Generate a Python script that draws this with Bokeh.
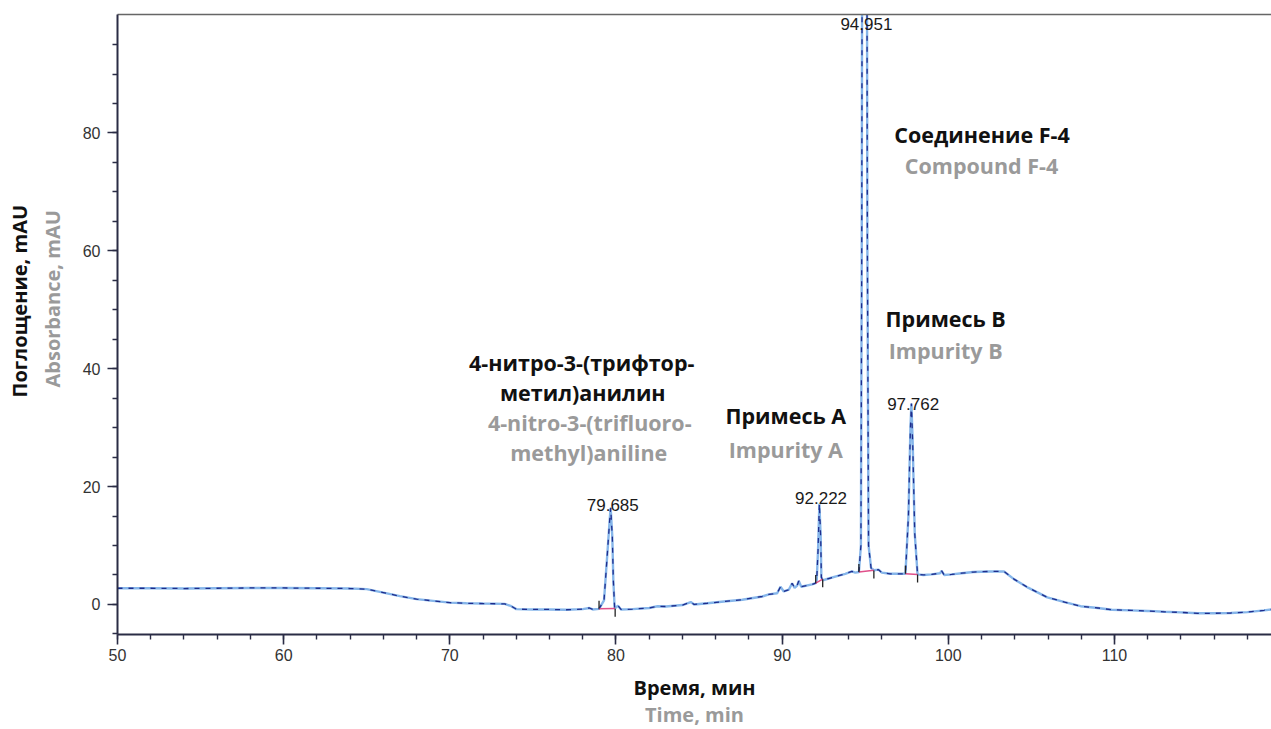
import math
from bokeh.plotting import figure
from bokeh.models import Range1d, FixedTicker, LinearAxis, Title
from bokeh.core.properties import value
from bokeh.embed import file_html
from bokeh.resources import INLINE

# ---------------- data ----------------
time_min = [50.0, 52.0, 54.0, 56.0, 58.0, 60.0, 62.0, 64.0, 65.0, 66.0, 67.0, 68.0, 69.0, 70.0,
            71.0, 72.0, 73.3, 73.7, 74.0, 75.0, 76.0, 77.0, 78.0, 78.4, 78.6, 78.98, 79.28, 79.48,
            79.62, 79.68, 79.78, 79.84, 79.92, 80.12, 80.3, 81.0, 82.0, 82.5, 83.0, 84.0, 84.5,
            84.7, 85.5, 86.5, 87.6, 88.8, 89.2, 89.7, 89.9, 90.1, 90.4, 90.6, 90.75, 90.9, 91.0,
            91.15, 91.8, 92.02, 92.08, 92.16, 92.24, 92.32, 92.36, 92.44, 92.8, 93.3, 93.8, 94.2,
            94.4, 94.62, 94.74, 94.79, 94.95, 95.13, 95.2, 95.35, 95.52, 95.8, 96.0, 96.5, 97.0,
            97.42, 97.6, 97.72, 97.78, 97.86, 97.98, 98.15, 98.5, 99.0, 99.5, 99.6, 99.75, 100.2,
            100.8, 101.5, 102.5, 103.35, 103.95, 104.83, 105.96, 107.0, 107.96, 109.0, 109.83,
            111.0, 112.0, 113.0, 114.0, 115.0, 116.0, 117.0, 118.0, 119.0, 119.45]
absorbance = [2.75, 2.75, 2.7, 2.75, 2.8, 2.8, 2.75, 2.7, 2.6, 2.0, 1.4, 0.9, 0.6, 0.3,
              0.2, 0.15, 0.1, -0.3, -0.8, -0.85, -0.85, -0.9, -0.8, -0.6, -0.85, -0.75, 0.7, 8.6,
              14.3, 16.4, 11.4, 4.1, -0.7, -0.2, -0.85, -0.8, -0.6, -0.3, -0.35, -0.1, 0.4,
              0.0, 0.2, 0.5, 0.8, 1.35, 1.7, 1.9, 3.0, 2.2, 2.5, 3.6, 2.8, 3.2, 4.0,
              3.0, 3.4, 3.6, 4.1, 9.2, 17.1, 11.4, 4.6, 4.1, 4.4, 4.8, 5.2, 5.6,
              5.4, 5.5, 10.0, 60.0, 400.0, 60.0, 10.0, 6.2, 5.8, 5.9, 5.4, 5.2, 5.2,
              5.2, 15.0, 30.0, 34.1, 27.0, 12.0, 5.1, 5.0, 5.1, 5.3, 5.7, 5.0, 5.1,
              5.3, 5.5, 5.6, 5.6, 4.3, 2.8, 1.2, 0.4, -0.3, -0.6, -0.9,
              -1.0, -1.1, -1.25, -1.35, -1.5, -1.5, -1.45, -1.3, -1.0, -0.85]

peak_times = [79.685, 92.222, 94.951, 97.762]
peak_labels = ["79.685", "92.222", "94.951", "97.762"]

# integration baselines (start / end of each peak)
base_t0 = [78.98, 92.02, 94.62, 97.42]
base_v0 = [-0.75, 3.6, 5.5, 5.2]
base_t1 = [79.95, 92.44, 95.52, 98.15]
base_v1 = [-0.7, 4.3, 5.8, 5.1]

x_ticks = [50, 60, 70, 80, 90, 100, 110]
x_minor = list(range(50, 120, 2))
y_ticks = [0, 20, 40, 60, 80]
y_minor = list(range(-5, 100, 5))

ann_ru = ["4-нитро-3-(трифтор-", "метил)анилин", "Примесь A", "Соединение F-4", "Примесь B"]
ann_en = ["4-nitro-3-(trifluoro-", "methyl)aniline", "Impurity A", "Compound F-4", "Impurity B"]

x_title_ru, x_title_en = "Время, мин", "Time, min"
y_title_ru, y_title_en = "Поглощение, mAU", "Absorbance, mAU"

# ---------------- layout (positions of texts) ----------------
peak_label_y = [16.8, 18.0, 98.5, 34.0]
ru_x = [77.94, 78.0, 90.22, 102.03, 99.84]
ru_y = [41.1, 36.0, 32.1, 79.8, 48.6]
en_x = [78.42, 78.36, 90.22, 102.0, 99.84]
en_y = [30.9, 25.8, 26.3, 74.5, 43.1]

AXIS = "#2a2c45"
LIGHT = "#86b6ea"
DARK = "#1f2c8c"
GREY = "#9a9a9a"
BLACK = "#111111"

p = figure(width=1271, height=729, x_range=Range1d(50, 119.45), y_range=Range1d(-5.1, 100.1),
           output_backend="svg", toolbar_location=None, title=None,
           min_border_left=117, min_border_right=0, min_border_top=14, min_border_bottom=95)
p.grid.visible = False
p.outline_line_color = None
p.background_fill_color = "white"
p.border_fill_color = "white"

for ax in (p.xaxis[0], p.yaxis[0]):
    ax.axis_line_color = AXIS
    ax.axis_line_width = 2
    ax.major_tick_line_color = AXIS
    ax.minor_tick_line_color = AXIS
    ax.major_tick_line_width = 1.6
    ax.minor_tick_line_width = 1.4
    ax.major_tick_out = 10
    ax.major_tick_in = 0
    ax.minor_tick_out = 5
    ax.minor_tick_in = 0
    ax.major_label_text_font = "Liberation Sans"
    ax.major_label_text_font_size = "16px"
    ax.major_label_text_color = "#333333"
    ax.axis_label_text_font = "Open Sans"
    ax.axis_label_text_font_style = "bold"
    ax.axis_label_text_font_size = "20px"

p.xaxis.ticker = FixedTicker(ticks=x_ticks, minor_ticks=x_minor)
p.yaxis.ticker = FixedTicker(ticks=y_ticks, minor_ticks=y_minor)
p.xaxis.major_label_standoff = 4
p.yaxis.major_label_standoff = 7

# x titles: Russian as axis label, English as a title below it
p.xaxis.axis_label = x_title_ru
p.xaxis.axis_label_text_color = BLACK
p.xaxis.axis_label_standoff = 10


def side_title(text, color, standoff, valign, align="center", offset=0):
    return Title(text=text, align=align, offset=offset, vertical_align=valign, standoff=standoff,
                 text_font="Open Sans", text_font_style="bold", text_font_size="20px",
                 text_color=color)


p.add_layout(side_title(x_title_en, GREY, -9, "bottom"), "below")
# y titles: English next to the axis, Russian further out
p.add_layout(side_title(y_title_en, GREY, 26, "middle", align="left", offset=247), "left")
p.add_layout(side_title(y_title_ru, BLACK, -16, "bottom", align="left", offset=237), "left")

top_axis = LinearAxis(ticker=FixedTicker(ticks=[]), axis_line_color="#666666", axis_line_width=1.5,
                      major_tick_line_color=None, minor_tick_line_color=None,
                      major_label_text_font_size="0px")
p.add_layout(top_axis, "above")

# chromatogram trace
p.line(time_min, absorbance, color=LIGHT, line_width=2.4)
p.line(time_min, absorbance, color=DARK, line_width=1.3, line_dash="5 6")

# integration baselines and event marks
p.segment(base_t0, base_v0, base_t1, base_v1, color="#e0508a", line_width=1.5)
p.scatter(base_t0, [v + 0.7 for v in base_v0], marker="dash", angle=math.pi / 2, size=8,
          line_color="#222222", line_width=1.3)
p.scatter(base_t1, [v - 0.7 for v in base_v1], marker="dash", angle=math.pi / 2, size=8,
          line_color="#222222", line_width=1.3)

# peak retention time labels
p.text(x=peak_times, y=peak_label_y, text=peak_labels, text_align="center", text_baseline="middle",
       text_font=value("Liberation Sans"), text_font_size="17px", text_color="#1a1a1a", x_offset=2)

# compound annotations
p.text(x=ru_x, y=ru_y, text=ann_ru, text_align="center", text_baseline="middle",
       text_font=value("Open Sans"), text_font_style="bold", text_font_size="21.5px", text_color=BLACK)
p.text(x=en_x, y=en_y, text=ann_en, text_align="center", text_baseline="middle",
       text_font=value("Open Sans"), text_font_style="bold", text_font_size="21.5px", text_color=GREY)

open("out.html", "w").write(file_html(p, INLINE))
